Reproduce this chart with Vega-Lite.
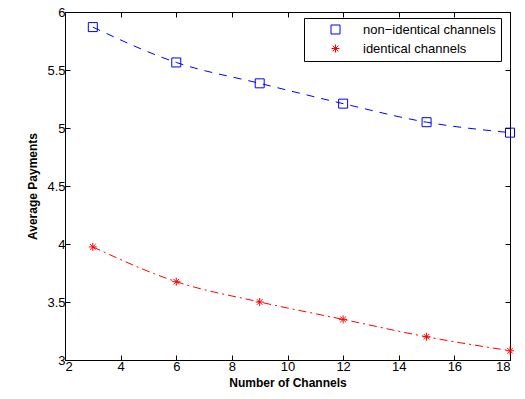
{
  "$schema": "https://vega.github.io/schema/vega-lite/v6.json",
  "width": 445,
  "height": 348,
  "autosize": {"type": "none"},
  "padding": {"left": 65, "top": 12, "right": 15, "bottom": 39},
  "background": "white",
  "config": {
    "font": "Liberation Sans",
    "view": {"stroke": "black", "strokeWidth": 1},
    "axis": {
      "grid": false,
      "domainColor": "black",
      "tickColor": "black",
      "labelColor": "black",
      "titleColor": "black",
      "labelFont": "Liberation Sans",
      "labelFontSize": 13,
      "titleFont": "Liberation Sans",
      "titleFontSize": 12,
      "titleFontWeight": "bold",
      "tickSize": -5,
      "domainWidth": 1,
      "tickWidth": 1
    },
    "legend": {
      "title": null,
      "orient": "none",
      "legendX": 239,
      "legendY": 6,
      "padding": 5,
      "rowPadding": 5,
      "strokeColor": "black",
      "fillColor": "white",
      "labelFont": "Liberation Sans",
      "labelFontSize": 13,
      "labelColor": "black",
      "labelOffset": 21,
      "symbolOffset": 20,
      "symbolStrokeWidth": 1
    }
  },
  "data": {
    "values": [
      {"channels": 3, "payment": 5.87, "series": "non−identical channels"},
      {"channels": 6, "payment": 5.565, "series": "non−identical channels"},
      {"channels": 9, "payment": 5.385, "series": "non−identical channels"},
      {"channels": 12, "payment": 5.21, "series": "non−identical channels"},
      {"channels": 15, "payment": 5.05, "series": "non−identical channels"},
      {"channels": 18, "payment": 4.96, "series": "non−identical channels"},
      {"channels": 3, "payment": 3.975, "series": "identical channels"},
      {"channels": 6, "payment": 3.675, "series": "identical channels"},
      {"channels": 9, "payment": 3.5, "series": "identical channels"},
      {"channels": 12, "payment": 3.35, "series": "identical channels"},
      {"channels": 15, "payment": 3.2, "series": "identical channels"},
      {"channels": 18, "payment": 3.08, "series": "identical channels"}
    ]
  },
  "layer": [
    {
      "mark": {"type": "line", "interpolate": "monotone", "strokeWidth": 1},
      "encoding": {
        "x": {"field": "channels", "type": "quantitative", "scale": {"domain": [2, 18], "nice": false, "zero": false},
              "axis": {"orient": "bottom", "values": [2, 4, 6, 8, 10, 12, 14, 16, 18], "title": "Number of Channels", "labelPadding": 5, "titlePadding": 4}},
        "y": {"field": "payment", "type": "quantitative", "scale": {"domain": [3, 6], "nice": false, "zero": false},
              "axis": {"orient": "left", "values": [3, 3.5, 4, 4.5, 5, 5.5, 6], "format": "~g", "title": "Average Payments", "labelPadding": 5, "titlePadding": 7}},
        "color": {"field": "series", "type": "nominal",
                  "scale": {"domain": ["non−identical channels", "identical channels"], "range": ["#0000ff", "#ff0000"]},
                  "legend": {"title": null}},
        "strokeDash": {"field": "series", "type": "nominal",
                       "scale": {"domain": ["identical channels", "non−identical channels"], "range": [[8, 4, 2, 4], [8, 7]]},
                       "legend": null}
      }
    },
    {
      "mark": {"type": "point", "filled": false, "strokeWidth": 1, "opacity": 1},
      "encoding": {
        "x": {"field": "channels", "type": "quantitative", "axis": null},
        "y": {"field": "payment", "type": "quantitative", "axis": null},
        "color": {"field": "series", "type": "nominal"},
        "shape": {"field": "series", "type": "nominal",
                  "scale": {"domain": ["non−identical channels", "identical channels"], "range": ["square", "M-1,0L1,0M0,-1L0,1M-0.7,-0.7L0.7,0.7M-0.7,0.7L0.7,-0.7"]},
                  "legend": null},
        "size": {"field": "series", "type": "nominal",
                 "scale": {"domain": ["non−identical channels", "identical channels"], "range": [81, 64]},
                 "legend": null}
      }
    },
    {
      "mark": {"type": "point", "opacity": 0},
      "encoding": {
        "x": {"field": "channels", "type": "quantitative", "axis": {"orient": "top", "labels": false, "title": null, "values": [2, 4, 6, 8, 10, 12, 14, 16, 18]}},
        "y": {"field": "payment", "type": "quantitative", "axis": {"orient": "right", "labels": false, "title": null, "values": [3, 3.5, 4, 4.5, 5, 5.5, 6]}}
      }
    }
  ],
  "resolve": {"axis": {"x": "independent", "y": "independent"}}
}
